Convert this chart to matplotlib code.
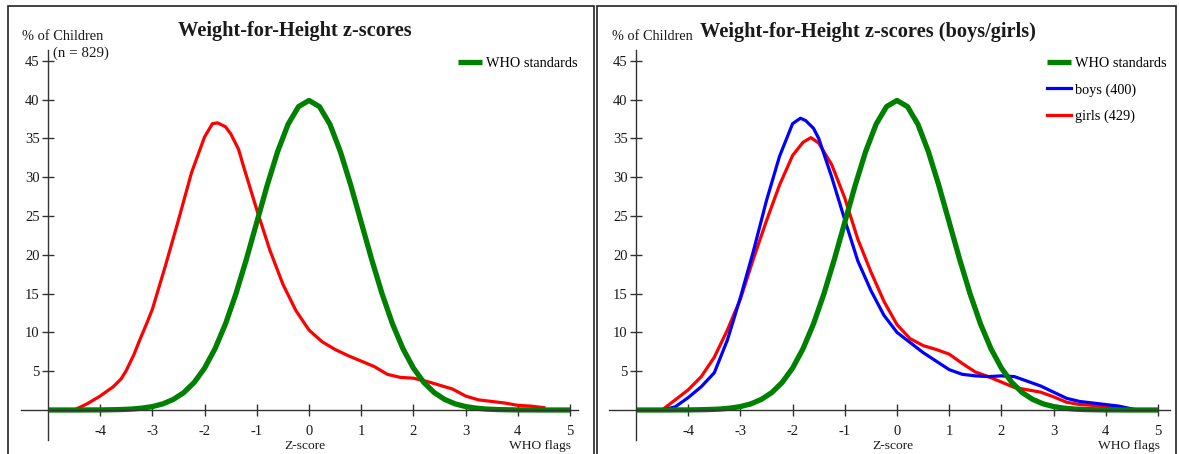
import matplotlib
matplotlib.use("Agg")
import matplotlib.pyplot as plt
from matplotlib.patches import Rectangle
from matplotlib.lines import Line2D

W, H = 1179, 454
plt.rcParams['font.family'] = ['Liberation Serif', 'DejaVu Serif']
plt.rcParams['axes.unicode_minus'] = False

# ---------------- data ----------------
who_z = [-5.0, -4.8, -4.6, -4.4, -4.2, -4.0, -3.8, -3.6, -3.4, -3.2, -3.0, -2.8, -2.6, -2.4, -2.2,
         -2.0, -1.8, -1.6, -1.4, -1.2, -1.0, -0.8, -0.6, -0.4, -0.2, 0.0, 0.2, 0.4, 0.6, 0.8,
         1.0, 1.2, 1.4, 1.6, 1.8, 2.0, 2.2, 2.4, 2.6, 2.8, 3.0, 3.2, 3.4, 3.6, 3.8, 4.0,
         4.2, 4.4, 4.6, 4.8, 5.0]
who_pct = [0.0, 0.0, 0.0, 0.0, 0.01, 0.01, 0.03, 0.06, 0.12, 0.24, 0.44, 0.79, 1.36, 2.24, 3.55,
           5.40, 7.90, 11.09, 14.97, 19.42, 24.20, 28.97, 33.32, 36.83, 39.10, 39.89, 39.10, 36.83, 33.32, 28.97,
           24.20, 19.42, 14.97, 11.09, 7.90, 5.40, 3.55, 2.24, 1.36, 0.79, 0.44, 0.24, 0.12, 0.06, 0.03, 0.01,
           0.01, 0.0, 0.0, 0.0, 0.0]

all_z = [-4.5, -4.25, -4.0, -3.75, -3.6, -3.5, -3.35, -3.25, -3.1, -3.0, -2.75, -2.5, -2.25, -2.0, -1.85,
         -1.75, -1.6, -1.5, -1.35, -1.25, -1.0, -0.75, -0.5, -0.25, 0.0, 0.25, 0.5, 0.75, 1.0,
         1.25, 1.5, 1.75, 2.0, 2.25, 2.5, 2.75, 3.0, 3.25, 3.5, 3.75, 4.0, 4.25, 4.5]
all_pct = [0.0, 0.8, 1.8, 3.0, 4.0, 5.1, 7.2, 8.9, 11.3, 13.0, 18.6, 24.5, 30.6, 35.2, 36.9,
           37.0, 36.5, 35.6, 33.6, 31.3, 25.8, 20.6, 16.2, 12.8, 10.3, 8.8, 7.8, 7.0, 6.3,
           5.6, 4.6, 4.2, 4.1, 3.7, 3.2, 2.7, 1.8, 1.3, 1.1, 0.9, 0.6, 0.5, 0.3]

boys_z = [-4.5, -4.25, -4.0, -3.75, -3.5, -3.25, -3.0, -2.75, -2.5, -2.25, -2.0, -1.85, -1.75, -1.6, -1.5,
          -1.25, -1.0, -0.75, -0.5, -0.25, 0.0, 0.25, 0.5, 0.75, 1.0, 1.25, 1.5, 1.75, 2.0, 2.25,
          2.5, 2.75, 3.0, 3.25, 3.5, 3.75, 4.0, 4.25, 4.6]
boys_pct = [0.0, 0.4, 1.6, 3.0, 4.8, 9.0, 14.5, 20.5, 27.0, 32.7, 36.9, 37.6, 37.3, 36.3, 35.0,
            30.0, 24.5, 19.2, 15.4, 12.2, 10.0, 8.7, 7.4, 6.3, 5.2, 4.6, 4.4, 4.3, 4.4, 4.3,
            3.7, 3.1, 2.3, 1.5, 1.1, 0.9, 0.7, 0.5, 0.0]

girls_z = [-4.5, -4.25, -4.0, -3.75, -3.5, -3.25, -3.0, -2.75, -2.5, -2.25, -2.0, -1.8, -1.65, -1.5,
           -1.25, -1.0, -0.75, -0.5, -0.25, 0.0, 0.25, 0.5, 0.75, 1.0, 1.25, 1.5, 1.75, 2.0, 2.25,
           2.5, 2.75, 3.0, 3.25, 3.5, 3.75, 4.0, 4.25, 4.5]
girls_pct = [0.0, 1.3, 2.6, 4.3, 6.8, 10.3, 14.3, 19.5, 24.4, 29.0, 32.8, 34.5, 35.1, 34.4,
             31.6, 27.3, 22.0, 17.8, 14.0, 11.0, 9.2, 8.3, 7.8, 7.2, 6.0, 4.9, 4.3, 3.6, 2.9,
             2.6, 2.3, 1.7, 1.0, 0.7, 0.6, 0.4, 0.2, 0.0]

x_ticks = [-4, -3, -2, -1, 0, 1, 2, 3, 4, 5]
y_ticks = [5, 10, 15, 20, 25, 30, 35, 40, 45]

left_title = "Weight-for-Height z-scores"
right_title = "Weight-for-Height z-scores (boys/girls)"
who_label = "WHO standards"
boys_label = "boys (400)"
girls_label = "girls (429)"

GREEN = '#008000'
RED = '#ff0000'
BLUE = '#0000ff'
AXC = '#333333'
TXT = '#1a1a1a'


def fx(px):
    return px / W


def fy(py):
    return 1 - py / H


fig = plt.figure(figsize=(W / 100, H / 100), dpi=100)
fig.patch.set_facecolor('white')

# panel frames
fig.add_artist(Rectangle((fx(8), fy(470)), fx(594) - fx(8), fy(6) - fy(470), fill=False,
                         lw=1.2, ec='#222222', transform=fig.transFigure))
fig.add_artist(Rectangle((fx(597), fy(470)), fx(1176) - fx(597), fy(6) - fy(470), fill=False,
                         lw=1.2, ec='#222222', transform=fig.transFigure))

PX_PER_Z = 52.2
Y0_PX = 410.0
PX_PER_PCT = 7.76
TOP_PX, BOT_PX = 50, 440


def make_axes(left_px, right_px, zero_px):
    ax = fig.add_axes([fx(left_px), fy(BOT_PX), fx(right_px) - fx(left_px), fy(TOP_PX) - fy(BOT_PX)])
    ax.set_xlim((left_px - zero_px) / PX_PER_Z, (right_px - zero_px) / PX_PER_Z)
    ax.set_ylim((Y0_PX - BOT_PX) / PX_PER_PCT, (Y0_PX - TOP_PX) / PX_PER_PCT)
    ax.set_facecolor('none')
    for s in ['top', 'right']:
        ax.spines[s].set_visible(False)
    ax.spines['left'].set_position(('data', -5))
    ax.spines['bottom'].set_position(('data', 0))
    for s in ['left', 'bottom']:
        ax.spines[s].set_color(AXC)
        ax.spines[s].set_linewidth(1.0)
    ax.set_xticks(x_ticks)
    ax.set_yticks(y_ticks)
    ax.tick_params(direction='inout', length=8, width=1, colors=AXC,
                   labelcolor=TXT, labelsize=10.5)
    ax.tick_params(axis='x', pad=7)
    ax.tick_params(axis='y', pad=2)
    return ax


def legend(ax, handles, labels, right_px):
    ax.legend(handles, labels, loc='upper right', frameon=False, fontsize=10.3,
              bbox_to_anchor=(fx(right_px), fy(57)), bbox_transform=fig.transFigure,
              borderpad=0, handlelength=1.65, handletextpad=0.33, borderaxespad=0,
              labelspacing=0.92)


# ---------------- left panel ----------------
axL = make_axes(21, 578, 309)
axL.plot(all_z, all_pct, color=RED, lw=2.3, solid_joinstyle='round')
lw_who, = axL.plot(who_z, who_pct, color=GREEN, lw=3.8, solid_joinstyle='round', solid_capstyle='butt')
legend(axL, [lw_who], [who_label], 578)

fig.text(fx(295), fy(31), left_title, ha='center', va='center', fontsize=14.7, fontweight='bold', color=TXT)
fig.text(fx(22), fy(37), "% of Children", ha='left', va='center', fontsize=10.4, color=TXT)
fig.text(fx(53), fy(53), "(n = 829)", ha='left', va='center', fontsize=10.8, color=TXT)
fig.text(fx(305), fy(446), "Z-score", ha='center', va='center', fontsize=9.7, color=TXT)
fig.text(fx(571), fy(446), "WHO flags", ha='right', va='center', fontsize=9.7, color=TXT)

# ---------------- right panel ----------------
axR = make_axes(609, 1170, 897)
axR.plot(girls_z, girls_pct, color=RED, lw=2.3, solid_joinstyle='round')
hb, = axR.plot(boys_z, boys_pct, color=BLUE, lw=2.3, solid_joinstyle='round')
hw, = axR.plot(who_z, who_pct, color=GREEN, lw=3.8, solid_joinstyle='round', solid_capstyle='butt')
hg = Line2D([], [], color=RED, lw=2.3)
legend(axR, [hw, hb, hg], [who_label, boys_label, girls_label], 1167)

fig.text(fx(868), fy(32), right_title, ha='center', va='center', fontsize=14.7, fontweight='bold', color=TXT)
fig.text(fx(612), fy(37), "% of Children", ha='left', va='center', fontsize=10.3, color=TXT)
fig.text(fx(893), fy(446), "Z-score", ha='center', va='center', fontsize=9.7, color=TXT)
fig.text(fx(1160), fy(446), "WHO flags", ha='right', va='center', fontsize=9.7, color=TXT)

fig.savefig('out.png', dpi=100)
